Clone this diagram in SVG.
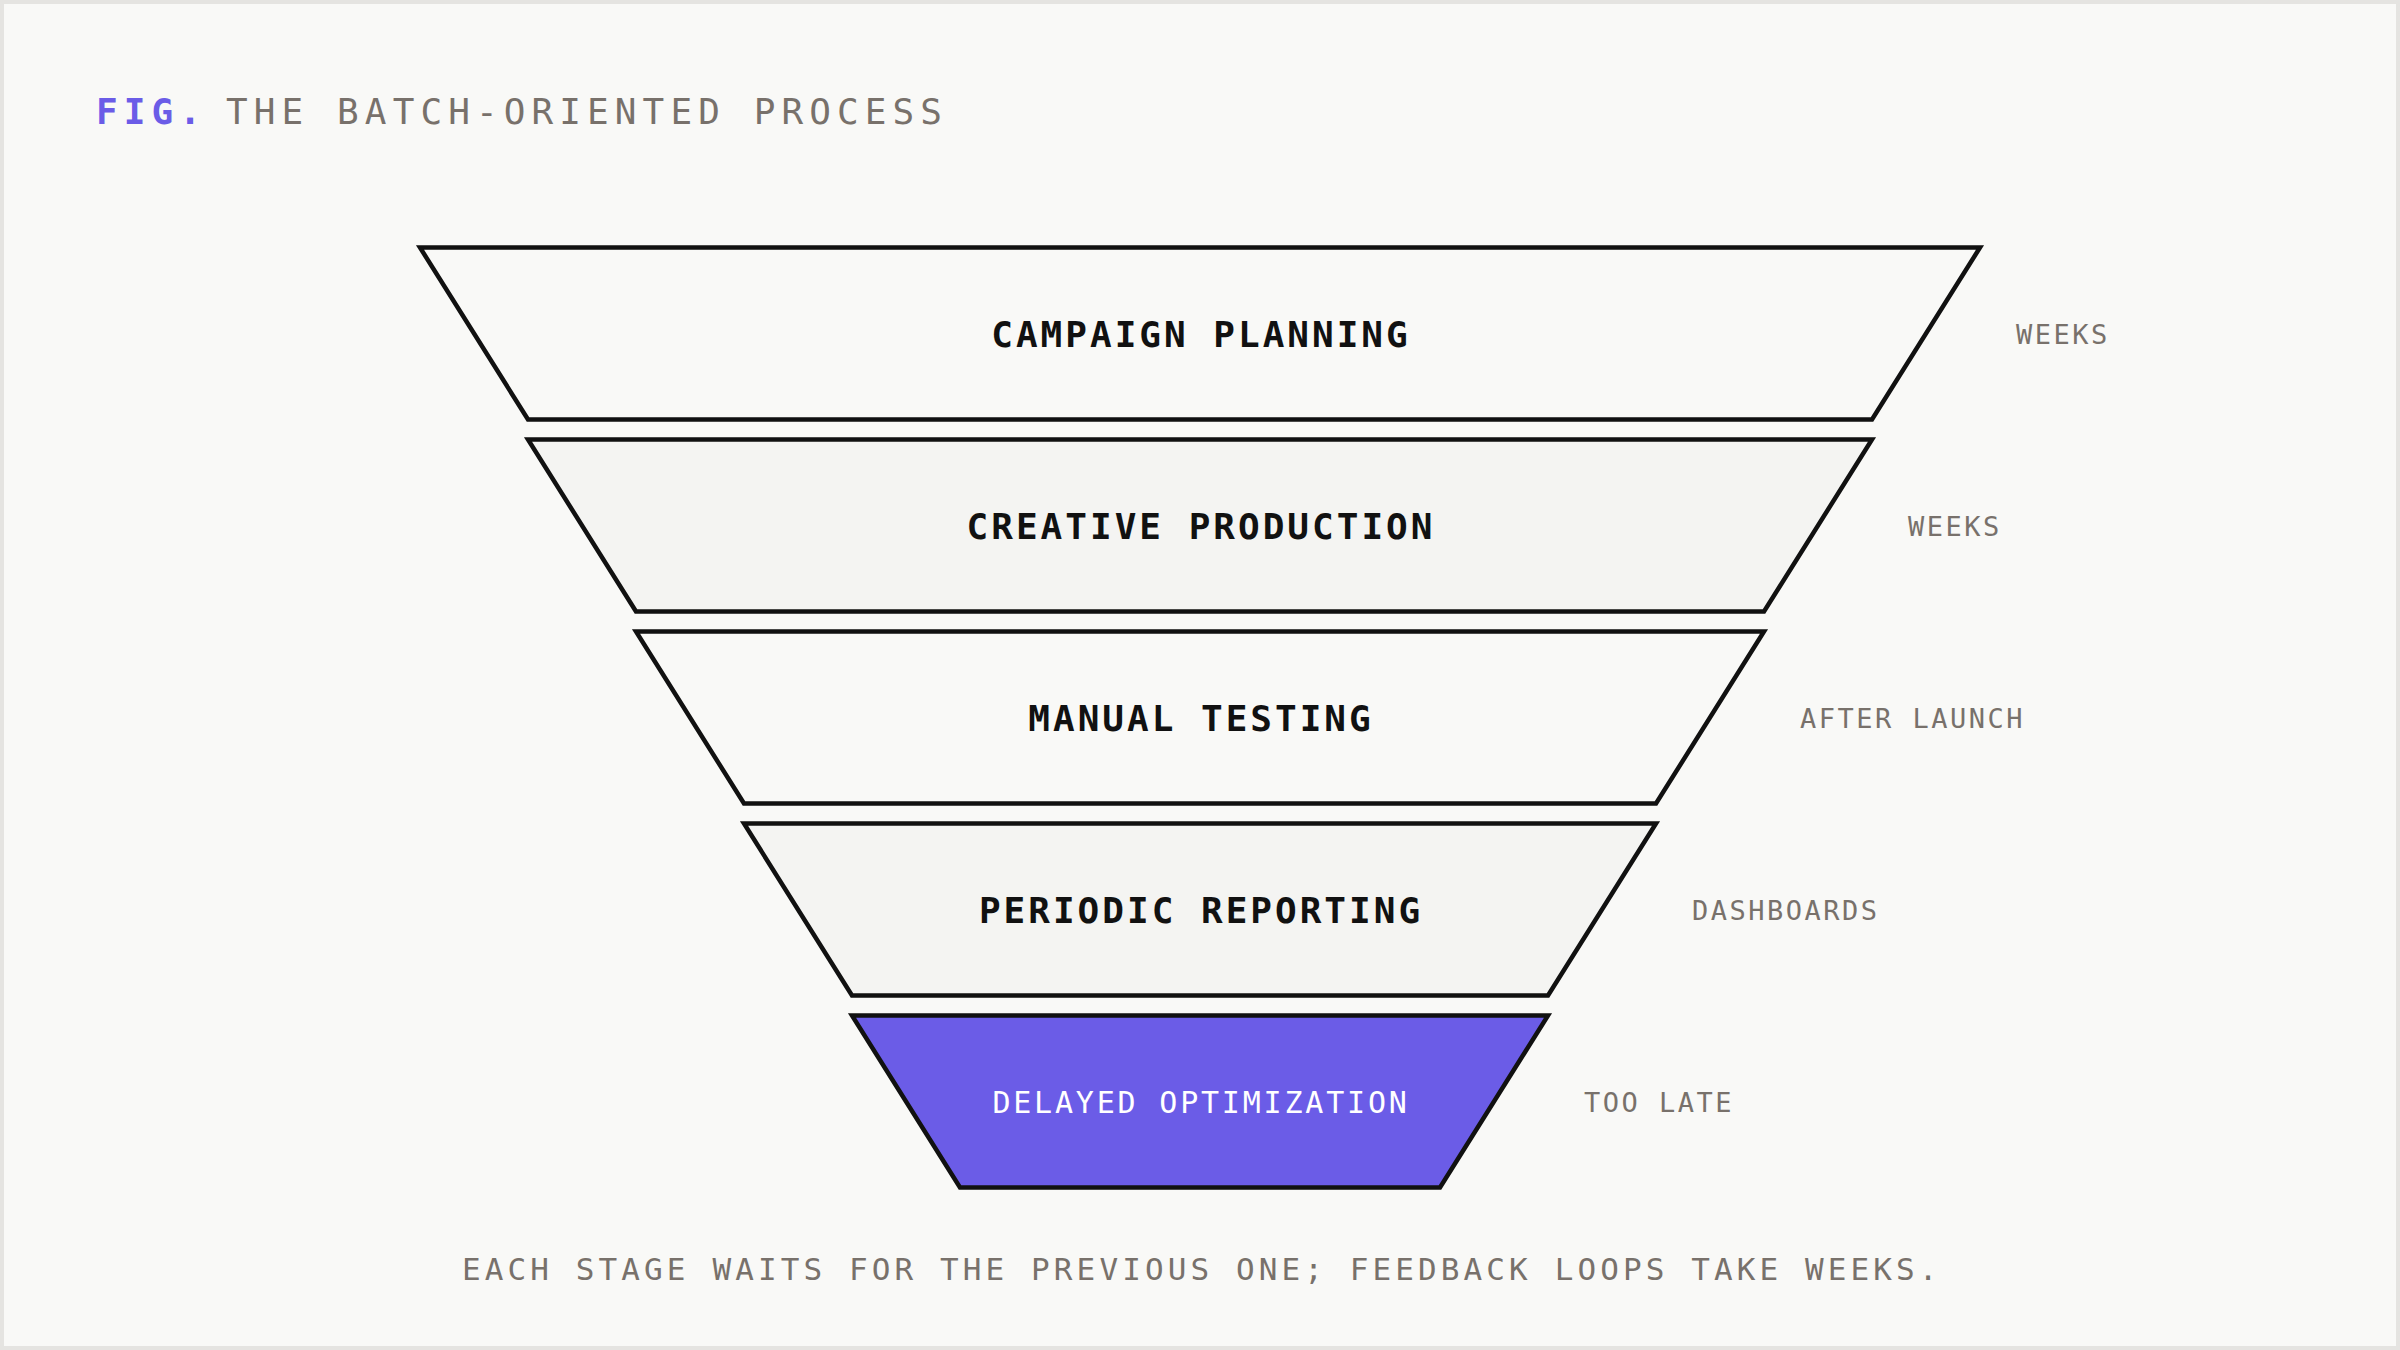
<svg xmlns="http://www.w3.org/2000/svg" width="2400" height="1350" viewBox="0 0 2400 1350">
<style>
.stage{stroke:#111111;stroke-width:4.5;stroke-linejoin:miter}
.light{fill:#f9f9f7}
.shade{fill:#f4f4f2}
.hot{fill:#6b5ce7}
.lbl{font-family:"DejaVu Sans Mono","Liberation Mono",monospace;font-size:36px;font-weight:bold;fill:#111111;letter-spacing:3px;text-anchor:middle}
.lbl-hot{font-family:"DejaVu Sans Mono","Liberation Mono",monospace;font-size:30px;font-weight:normal;fill:#ffffff;letter-spacing:2.8px;text-anchor:middle}
.side{font-family:"DejaVu Sans Mono","Liberation Mono",monospace;font-size:27px;fill:#78716b;letter-spacing:2.5px}
.title{font-family:"DejaVu Sans Mono","Liberation Mono",monospace;font-size:36px;letter-spacing:6.1px}
.caption{font-family:"DejaVu Sans Mono","Liberation Mono",monospace;font-size:31px;fill:#78716b;letter-spacing:4.1px}
</style>
<rect x="2" y="2" width="2396" height="1346" fill="#f9f9f7" stroke="#e5e4e1" stroke-width="4"/>
<g id="title">
<text x="96" y="124" class="title" fill="#6b5ce7" font-weight="bold">FIG.</text>
<text x="226" y="124" class="title" fill="#78716b">THE BATCH-ORIENTED PROCESS</text>
</g>
<g id="connectors"></g>
<g id="stage-campaign-planning">
<polygon class="stage light" points="420,247.5 1980,247.5 1872,419.5 528,419.5"/>
<text x="1201" y="347" class="lbl">CAMPAIGN PLANNING</text>
<text x="2016" y="344" class="side">WEEKS</text>
</g>
<g id="stage-creative-production">
<polygon class="stage shade" points="528,439.5 1872,439.5 1764,611.5 636,611.5"/>
<text x="1201" y="539" class="lbl">CREATIVE PRODUCTION</text>
<text x="1908" y="536" class="side">WEEKS</text>
</g>
<g id="stage-manual-testing">
<polygon class="stage light" points="636,631.5 1764,631.5 1656,803.5 744,803.5"/>
<text x="1201" y="731" class="lbl">MANUAL TESTING</text>
<text x="1800" y="728" class="side">AFTER LAUNCH</text>
</g>
<g id="stage-periodic-reporting">
<polygon class="stage shade" points="744,823.5 1656,823.5 1548,995.5 852,995.5"/>
<text x="1201" y="923" class="lbl">PERIODIC REPORTING</text>
<text x="1692" y="920" class="side">DASHBOARDS</text>
</g>
<g id="stage-delayed-optimization">
<polygon class="stage hot" points="852,1015.5 1548,1015.5 1440,1187.5 960,1187.5"/>
<text x="1201" y="1113" class="lbl-hot">DELAYED OPTIMIZATION</text>
<text x="1584" y="1112" class="side">TOO LATE</text>
</g>
<g id="caption">
<text x="462" y="1280" class="caption">EACH STAGE WAITS FOR THE PREVIOUS ONE; FEEDBACK LOOPS TAKE WEEKS.</text>
</g>
</svg>
